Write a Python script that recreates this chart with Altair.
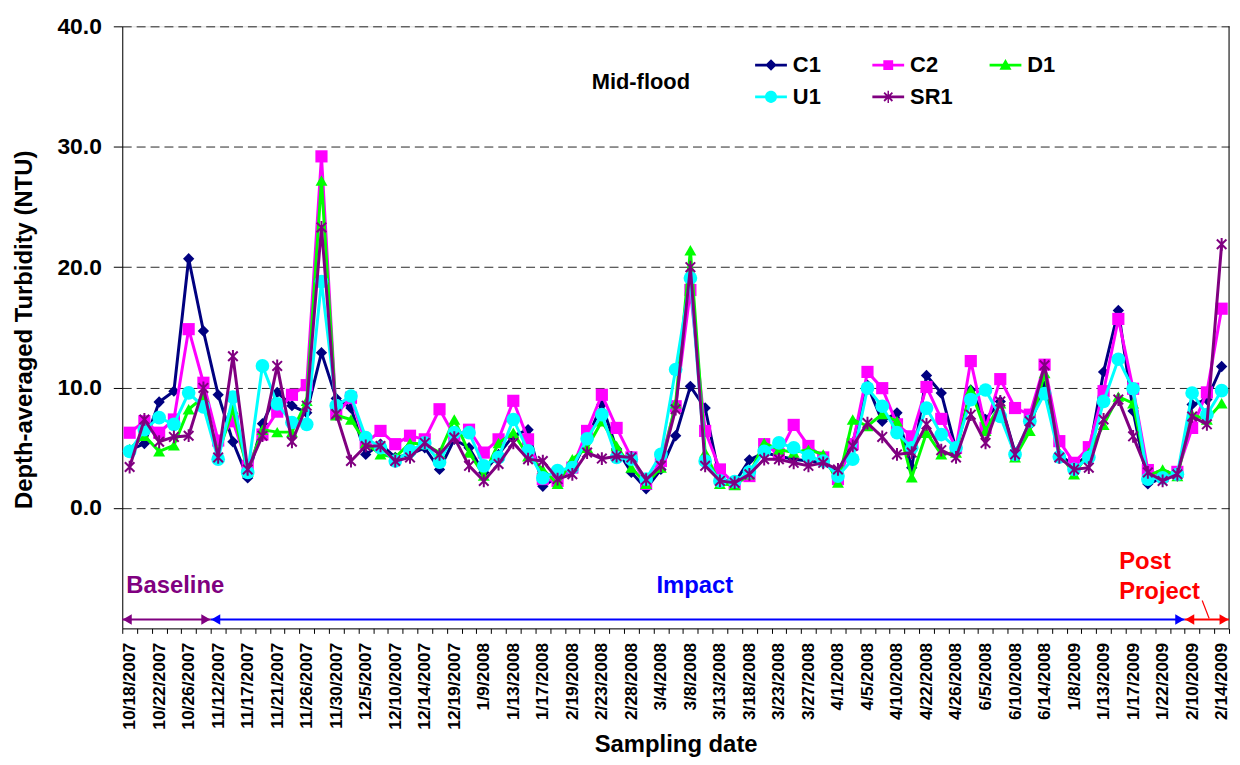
import json
import altair as alt
import pandas as pd

# ---------------- data ----------------
N_SAMPLES = 75
TICK_LABELS = [
    "10/18/2007", "10/22/2007", "10/26/2007", "11/12/2007", "11/17/2007", "11/21/2007",
    "11/26/2007", "11/30/2007", "12/5/2007", "12/10/2007", "12/14/2007", "12/19/2007",
    "1/9/2008", "1/13/2008", "1/17/2008", "2/19/2008", "2/23/2008", "2/28/2008",
    "3/4/2008", "3/8/2008", "3/13/2008", "3/18/2008", "3/23/2008", "3/27/2008",
    "4/1/2008", "4/5/2008", "4/10/2008", "4/22/2008", "4/26/2008", "6/5/2008",
    "6/10/2008", "6/14/2008", "1/8/2009", "1/13/2009", "1/17/2009", "1/22/2009",
    "2/10/2009", "2/14/2009",
]

SERIES = ["C1", "C2", "D1", "U1", "SR1"]
COLORS = ["#000080", "#FF00FF", "#00FF00", "#00FFFF", "#800080"]

C1 = [4.8, 5.35, 8.8, 9.7, 20.7, 14.7, 9.4, 5.5, 2.5, 7.0, 9.6, 8.5, 7.9, 12.9, 9.1,
      8.3, 4.45, 5.3, 4.2, 4.45, 5.0, 3.2, 5.7, 5.0, 2.95, 4.45, 6.0, 6.5, 1.8, 2.6,
      3.2, 5.7, 8.6, 4.9, 2.95, 1.6, 3.2, 6.0, 10.1, 8.3, 2.4, 2.1, 4.0, 4.6, 4.3,
      4.05, 3.9, 3.75, 2.95, 5.4, 10.2, 7.2, 7.9, 3.35, 11.0, 9.55, 4.85, 9.8, 7.35, 8.85,
      4.6, 6.9, 10.1, 4.45, 3.5, 4.45, 11.3, 16.4, 8.05, 2.0, 2.5, 2.65, 8.6, 9.0, 11.75]
C2 = [6.25, 7.2, 6.25, 7.35, 14.85, 10.4, 5.6, 7.2, 3.5, 6.1, 8.0, 9.4, 10.2, 29.2, 7.8,
      9.15, 5.4, 6.4, 5.3, 6.0, 5.7, 8.2, 6.0, 6.5, 4.6, 5.7, 8.9, 5.7, 2.4, 2.25,
      3.35, 6.4, 9.4, 6.65, 4.2, 2.0, 3.9, 8.45, 18.1, 6.4, 3.2, 2.0, 2.65, 5.3, 4.45,
      6.9, 5.15, 4.2, 2.4, 5.3, 11.3, 9.95, 6.95, 5.95, 10.05, 7.4, 5.0, 12.2, 6.65, 10.7,
      8.3, 7.75, 11.9, 5.55, 3.75, 5.05, 9.7, 15.7, 9.9, 3.15, 2.65, 3.0, 6.65, 9.6, 16.55]
D1 = [4.9, 6.0, 4.7, 5.2, 8.2, 9.2, 4.5, 8.2, 3.0, 6.5, 6.3, 6.3, 8.9, 27.2, 7.7,
      7.35, 5.4, 4.45, 4.2, 5.4, 5.3, 4.6, 7.35, 4.6, 2.7, 5.4, 6.25, 4.3, 3.2, 2.0,
      4.05, 5.0, 7.2, 5.15, 3.35, 2.0, 3.35, 8.7, 21.4, 4.6, 2.0, 1.9, 2.8, 5.4, 4.85,
      4.6, 4.85, 4.45, 2.1, 7.35, 6.8, 7.8, 7.2, 2.55, 6.25, 4.45, 4.6, 9.8, 6.4, 8.7,
      4.2, 6.4, 11.2, 4.6, 2.8, 4.6, 6.9, 9.25, 8.7, 2.65, 3.2, 2.65, 7.75, 7.35, 8.7]
U1 = [4.7, 6.5, 7.5, 6.95, 9.56, 8.4, 4.05, 9.2, 2.95, 11.8, 8.65, 7.1, 6.95, 18.8, 8.5,
      9.3, 5.85, 5.0, 3.9, 4.75, 5.4, 3.8, 6.25, 6.25, 3.5, 4.2, 7.35, 4.75, 2.5, 3.1,
      3.35, 5.75, 7.75, 4.2, 4.05, 2.4, 4.45, 11.5, 19.1, 3.9, 2.25, 2.2, 3.0, 4.7, 5.4,
      5.0, 4.3, 3.9, 2.65, 4.05, 9.95, 8.45, 6.25, 5.0, 8.3, 6.1, 5.0, 9.0, 9.8, 7.6,
      4.45, 7.2, 9.5, 4.25, 3.2, 4.2, 8.85, 12.35, 9.9, 2.4, 2.5, 2.8, 9.55, 7.75, 9.75]
SR1 = [3.4, 7.35, 5.5, 5.9, 6.0, 9.97, 4.2, 12.6, 3.2, 6.0, 11.8, 5.5, 8.5, 23.3, 7.8,
       3.9, 5.15, 5.15, 3.9, 4.2, 5.4, 4.45, 5.85, 3.5, 2.25, 3.65, 5.4, 4.05, 3.9, 2.4,
       2.8, 4.6, 4.1, 4.3, 4.2, 2.35, 3.5, 8.2, 20.0, 3.5, 2.25, 2.1, 2.8, 4.05, 4.05,
       3.75, 3.5, 3.75, 3.2, 5.15, 7.05, 5.9, 4.45, 4.6, 6.95, 4.8, 4.2, 7.75, 5.4, 8.85,
       4.45, 7.2, 11.85, 4.2, 3.2, 3.35, 7.35, 9.0, 5.95, 2.95, 2.25, 2.8, 7.6, 6.95, 21.9]
VALUES = [C1, C2, D1, U1, SR1]

PERIODS = ["Baseline", "Impact", "Post Project"]
PERIOD_FIRST = [0, 6, 72]
PERIOD_LAST = [5, 71, 74]
PERIOD_COLORS = ["#800080", "#0000FF", "#FF0000"]

# ---------------- styling ----------------
FONT = "Liberation Sans"
W, H = 1114, 606
STEP = W / N_SAMPLES
MARK_SHAPES = ["diamond", "square", "triangle-up", "circle",
               "M0,-1L0,1M-0.75,-0.75L0.75,0.75M-0.75,0.75L0.75,-0.75"]
MARK_SIZES = [130, 150, 145, 190, 165]

LINE = "M-1,-0.09H1V0.09H-1Z"
LEGEND_PATHS = [
    LINE + "M0,-0.36L0.36,0L0,0.36L-0.36,0Z",
    LINE + "M-0.31,-0.31H0.31V0.31H-0.31Z",
    LINE + "M0,-0.38L0.38,0.3H-0.38Z",
    LINE + "M-0.38,0A0.38,0.38,0,1,1,0.38,0A0.38,0.38,0,1,1,-0.38,0Z",
    LINE + "M-0.045,-0.38H0.045V0.38H-0.045Z"
    + "M-0.22,-0.3L0.3,0.22L0.22,0.3L-0.3,-0.22Z"
    + "M-0.3,0.22L0.22,-0.3L0.3,-0.22L-0.22,0.3Z",
]

rows = []
for s, vals in zip(SERIES, VALUES):
    for i, v in enumerate(vals):
        rows.append({"sample": i, "series": s, "value": v})
df = pd.DataFrame(rows)

label_arr = [TICK_LABELS[k // 2] if (k % 2 == 0 and k < N_SAMPLES) else ""
             for k in range(N_SAMPLES + 1)]
label_expr = json.dumps(label_arr) + "[round(datum.value + 0.5)]"

x_scale = alt.Scale(domain=[-0.5, N_SAMPLES - 0.5], nice=False, zero=False)
y_scale = alt.Scale(domain=[-10, 40], nice=False, zero=False)

x_axis = alt.Axis(
    values=[k - 0.5 for k in range(N_SAMPLES + 1)],
    labelExpr=label_expr, labelAngle=270, labelOffset=STEP / 2,
    labelOverlap=False, labelBound=False, labelFlush=False,
    labelFont=FONT, labelFontSize=17.5, labelFontWeight="bold", labelColor="black",
    labelPadding=9, tickSize=5, tickColor="black", domainColor="black",
    grid=False, title="Sampling date", titleFont=FONT, titleFontSize=24,
    titleFontWeight="bold", titleColor="black", titleY=124, titleBaseline="alphabetic",
)
y_axis = alt.Axis(
    values=[0, 10, 20, 30, 40], format=".1f",
    labelFont=FONT, labelFontSize=23, labelFontWeight="bold", labelColor="black",
    labelPadding=12, tickSize=9, tickColor="black", domainColor="black",
    grid=True, gridColor="black", gridDash=[9, 5], gridWidth=1, gridOpacity=0.85,
    title="Depth-averaged Turbidity (NTU)", titleFont=FONT, titleFontSize=24,
    titleFontWeight="bold", titleColor="black", titleAngle=270,
    titleX=-98, titleY=H / 2 + 2, titleAlign="center", titleBaseline="middle",
)


def X(field):
    return alt.X(field, scale=x_scale, axis=x_axis)


def Y(field):
    return alt.Y(field, scale=y_scale, axis=y_axis)


base = alt.Chart(df)
layers = []

for s, col, shp, sz in zip(SERIES, COLORS, MARK_SHAPES, MARK_SIZES):
    sub = base.transform_filter(alt.datum.series == s)
    layers.append(
        sub.mark_line(color=col, strokeWidth=3).encode(x=X("sample:Q"), y=Y("value:Q"))
    )
    if s == "SR1":
        pm = sub.mark_point(shape=shp, size=sz, filled=False, color=col,
                            strokeWidth=2, opacity=1)
    else:
        pm = sub.mark_point(shape=shp, size=sz, filled=True, color=col,
                            strokeWidth=0, opacity=1)
    layers.append(pm.encode(x=X("sample:Q"), y=Y("value:Q")))

# legend (built from the series scales, no data drawn)
leg = alt.Legend(
    title=None, orient="none", legendX=637, legendY=23, columns=3, direction="horizontal",
    gridAlign="all", columnPadding=37, rowPadding=5, padding=0,
    symbolSize=1024, symbolStrokeWidth=0, labelOffset=6,
    labelFont=FONT, labelFontSize=22, labelFontWeight="bold", labelColor="black",
)
layers.append(
    base.transform_filter("false").mark_point(filled=True, opacity=1, strokeWidth=0).encode(
        x=X("sample:Q"), y=Y("value:Q"),
        color=alt.Color("series:N", scale=alt.Scale(domain=SERIES, range=COLORS), legend=leg),
        shape=alt.Shape("series:N", scale=alt.Scale(domain=SERIES, range=LEGEND_PATHS), legend=leg),
    )
)

# right frame line
layers.append(
    alt.Chart(pd.DataFrame({"a": [0]})).mark_rule(color="black", strokeWidth=1).encode(
        x=alt.value(W), y=alt.value(0), y2=alt.value(H)
    )
)

# "Mid-flood" label
layers.append(
    alt.Chart(pd.DataFrame({"t": ["Mid-flood"]})).mark_text(
        font=FONT, fontSize=22, fontWeight="bold", color="black", align="center", baseline="middle"
    ).encode(text="t:N", x=alt.value(522), y=alt.value(56))
)

# period arrows
pdf = pd.DataFrame({
    "period": PERIODS,
    "start": [f - 0.5 for f in PERIOD_FIRST],
    "end": [l + 0.5 for l in PERIOD_LAST],
    "mid": [(f + l) / 2 for f, l in zip(PERIOD_FIRST, PERIOD_LAST)],
    "pcolor": PERIOD_COLORS,
})
pbase = alt.Chart(pdf)
ARROW_Y = 597
layers.append(
    pbase.mark_rule(strokeWidth=2).encode(
        x=X("start:Q"), x2="end:Q", y=alt.value(ARROW_Y),
        color=alt.Color("pcolor:N", scale=None),
    )
)
layers.append(
    pbase.mark_point(shape="triangle-left", size=110, filled=True, opacity=1, xOffset=5).encode(
        x=X("start:Q"), y=alt.value(ARROW_Y), color=alt.Color("pcolor:N", scale=None),
    )
)
layers.append(
    pbase.mark_point(shape="triangle-right", size=110, filled=True, opacity=1, xOffset=-5).encode(
        x=X("end:Q"), y=alt.value(ARROW_Y), color=alt.Color("pcolor:N", scale=None),
    )
)

# period labels
layers.append(
    pbase.transform_filter(alt.datum.period == "Baseline").mark_text(
        font=FONT, fontSize=24, fontWeight="bold", align="left", baseline="middle", dx=4
    ).encode(x=X("start:Q"), y=alt.value(563),
             text="period:N", color=alt.Color("pcolor:N", scale=None))
)
layers.append(
    pbase.transform_filter(alt.datum.period == "Impact").mark_text(
        font=FONT, fontSize=24, fontWeight="bold", align="center", baseline="middle", dx=-3
    ).encode(x=X("mid:Q"), y=alt.value(563),
             text="period:N", color=alt.Color("pcolor:N", scale=None))
)
layers.append(
    pbase.transform_filter(alt.datum.period == "Post Project").mark_text(
        font=FONT, fontSize=24, fontWeight="bold", align="left", baseline="middle",
        dx=-66, lineBreak=" ", lineHeight=30
    ).encode(x=X("start:Q"), y=alt.value(539),
             text="period:N", color=alt.Color("pcolor:N", scale=None))
)
# leader line for Post Project
layers.append(
    alt.Chart(pd.DataFrame({"a": [0]})).mark_rule(color="#FF0000", strokeWidth=1.2).encode(
        x=alt.value(1087), x2=alt.value(1094), y=alt.value(578), y2=alt.value(596)
    )
)

chart = alt.layer(*layers).properties(
    width=W, height=H,
    autosize=alt.AutoSizeParams(type="none"),
    padding={"left": 115, "top": 16, "right": 3, "bottom": 127},
).configure_view(stroke=None).configure(background="white")

chart.save("out.html", embed_options={"renderer": "svg", "actions": False})
